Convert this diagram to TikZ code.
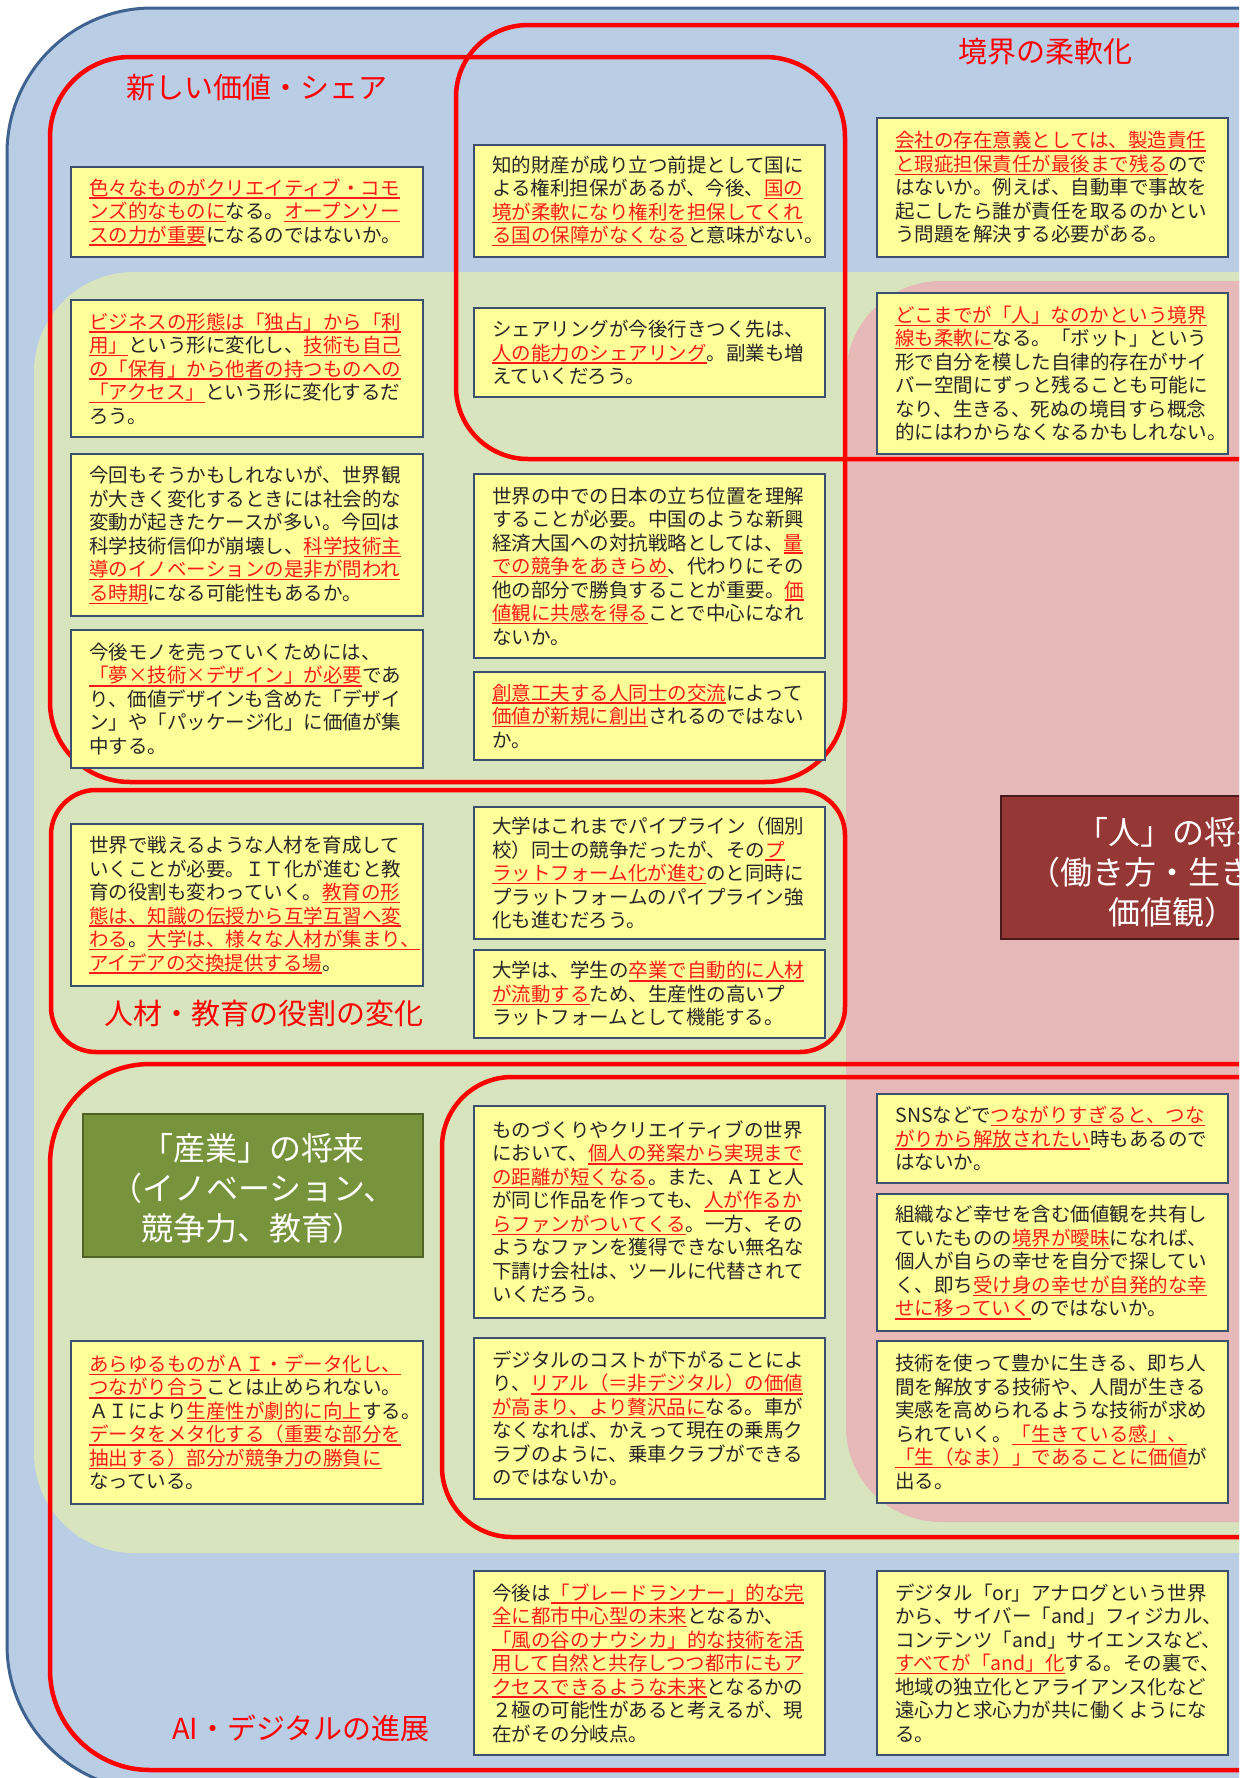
\documentclass[tikz,border=0pt]{standalone}
\usepackage{fontspec}
\setmainfont{Noto Sans CJK JP}
\usetikzlibrary{fit}
\definecolor{bgblue}{HTML}{B9CDE5}
\definecolor{bgborder}{HTML}{3F6290}
\definecolor{bggreen}{HTML}{D7E4BD}
\definecolor{bgpink}{HTML}{E6B9B8}
\definecolor{boxfill}{HTML}{FFFF99}
\definecolor{boxline}{HTML}{3B4F6E}
\definecolor{grpred}{HTML}{FF0000}
\definecolor{txtred}{HTML}{FF1A1A}
\definecolor{txtdark}{HTML}{262626}
\definecolor{indgreen}{HTML}{77933C}
\definecolor{indgreenline}{HTML}{4F6228}
\definecolor{indred}{HTML}{953735}
\definecolor{indredline}{HTML}{4A1B1B}
\newcommand\RU[1]{{\color{txtred}\setbox0=\hbox{#1}\rlap{\rule[-3.6pt]{\wd0}{1.3pt}}\box0}}
\tikzset{
 tbox/.style={draw=boxline, fill=boxfill, line width=1.5pt, inner sep=0pt},
 ttext/.style={anchor=west, align=left, inner sep=0pt, text=txtdark, font=\fontsize{19.5}{23.5}\selectfont},
 grp/.style={draw=grpred, line width=4.5pt},
 lbl/.style={text=grpred, font=\fontsize{29}{32}\selectfont, inner sep=0pt},
 indtext/.style={inner sep=0pt, text=white, align=center, font=\fontsize{32}{40}\selectfont},
}
\newcommand\tbox[6]{%
  \node[tbox, fit={(#2,#3) (#4,#5)}] (#1) {};
  \node[ttext] (#1t) at ([xshift=19pt]#1.west) {#6};
}
\begin{document}
\begin{tikzpicture}[x=1pt,y=-1pt]
\useasboundingbox (0,0) rectangle (1244,1778);
\begin{scope}
\clip (0,0) rectangle (1239,1778);
% backgrounds
\draw[fill=bgblue, draw=bgborder, line width=3pt, rounded corners=145pt] (7,8) rectangle (1420,1790);
\fill[bggreen, rounded corners=100pt] (34,272) rectangle (1420,1553);
\fill[bgpink, rounded corners=95pt] (846,281) rectangle (1420,1522);
% group outlines
\draw[grp, rounded corners=80pt] (50,57) rectangle (845,782);
\draw[grp, rounded corners=72pt] (456,25) rectangle (1420,459);
\draw[grp, rounded corners=45pt] (51,790) rectangle (845,1052);
\draw[grp, rounded corners=100pt] (50,1064) rectangle (1420,1770);
\draw[grp, rounded corners=70pt] (442,1077) rectangle (1420,1537);
% left column
\tbox{l1}{71}{167}{423}{257}{\RU{色々なものがクリエイティブ・コモ}\\\RU{ンズ的なものに}なる。\RU{オープンソー}\\\RU{スの力が重要}になるのではないか。}
\tbox{l2}{71}{300}{423}{437}{\RU{ビジネスの形態は「独占」から「利}\\\RU{用」}という形に変化し、\RU{技術も自己}\\\RU{の「保有」から他者の持つものへの}\\\RU{「アクセス」}という形に変化するだ\\ろう。}
\tbox{l3}{71}{454}{423}{616}{今回もそうかもしれないが、世界観\\が大きく変化するときには社会的な\\変動が起きたケースが多い。今回は\\科学技術信仰が崩壊し、\RU{科学技術主}\\\RU{導のイノベーションの是非が問われ}\\\RU{る時期}になる可能性もあるか。}
\tbox{l4}{71}{630}{423}{768}{今後モノを売っていくためには、\\\RU{「夢×技術×デザイン」が必要}であ\\り、価値デザインも含めた「デザイ\\ン」や「パッケージ化」に価値が集\\中する。}
\tbox{l5}{71}{824}{423}{986}{世界で戦えるような人材を育成して\\いくことが必要。ＩＴ化が進むと教\\育の役割も変わっていく。\RU{教育の形}\\\RU{態は、知識の伝授から互学互習へ変}\\\RU{わる}。\RU{大学は、様々な人材が集まり、}\\\RU{アイデアの交換提供する場}。}
\tbox{l8}{71}{1341}{423}{1504}{\RU{あらゆるものがＡＩ・データ化し、}\\\RU{つながり合う}ことは止められない。\\ＡＩにより\RU{生産性が劇的に向上}する。\\\RU{データをメタ化する（重要な部分を}\\\RU{抽出する）部分が競争力の勝負に}\\なっている。}
% middle column
\tbox{m1}{474}{145}{825}{257}{知的財産が成り立つ前提として国に\\よる権利担保があるが、今後、\RU{国の}\\\RU{境が柔軟になり権利を担保してくれ}\\\RU{る国の保障がなくなる}と意味がない。}
\tbox{m2}{474}{308}{825}{397}{シェアリングが今後行きつく先は、\\\RU{人の能力のシェアリング}。副業も増\\えていくだろう。}
\tbox{m3}{474}{474}{825}{658}{世界の中での日本の立ち位置を理解\\することが必要。中国のような新興\\経済大国への対抗戦略としては、\RU{量}\\\RU{での競争をあきらめ}、代わりにその\\他の部分で勝負することが重要。\RU{価}\\\RU{値観に共感を得る}ことで中心になれ\\ないか。}
\tbox{m4}{474}{672}{825}{760}{\RU{創意工夫する人同士の交流}によって\\\RU{価値が新規に創出}されるのではない\\か。}
\tbox{m5}{474}{807}{825}{939}{大学はこれまでパイプライン（個別\\校）同士の競争だったが、その\RU{プ}\\\RU{ラットフォーム化が進む}のと同時に\\プラットフォームのパイプライン強\\化も進むだろう。}
\tbox{m6}{474}{950}{825}{1038}{大学は、学生の\RU{卒業で自動的に人材}\\\RU{が流動する}ため、生産性の高いプ\\ラットフォームとして機能する。}
\tbox{m7}{474}{1106}{825}{1318}{ものづくりやクリエイティブの世界\\において、\RU{個人の発案から実現まで}\\\RU{の距離が短くなる}。また、ＡＩと人\\が同じ作品を作っても、\RU{人が作るか}\\\RU{らファンがついてくる}。一方、その\\ようなファンを獲得できない無名な\\下請け会社は、ツールに代替されて\\いくだろう。}
\tbox{m8}{474}{1338}{825}{1499}{デジタルのコストが下がることによ\\り、\RU{リアル（＝非デジタル）の価値}\\\RU{が高まり、より贅沢品に}なる。車が\\なくなれば、かえって現在の乗馬ク\\ラブのように、乗車クラブができる\\のではないか。}
\tbox{m9}{474}{1571}{825}{1755}{今後は\RU{「ブレードランナー」的な完}\\\RU{全に都市中心型の未来}となるか、\\\RU{「風の谷のナウシカ」的な技術を活}\\\RU{用して自然と共存しつつ都市にもア}\\\RU{クセスできるような未来}となるかの\\２極の可能性があると考えるが、現\\在がその分岐点。}
% right column
\tbox{r1}{877}{118}{1228}{257}{\RU{会社の存在意義としては、製造責任}\\\RU{と瑕疵担保責任が最後まで残る}ので\\はないか。例えば、自動車で事故を\\起こしたら誰が責任を取るのかとい\\う問題を解決する必要がある。}
\tbox{r2}{877}{293}{1228}{454}{\RU{どこまでが「人」なのかという境界}\\\RU{線も柔軟に}なる。「ボット」という\\形で自分を模した自律的存在がサイ\\バー空間にずっと残ることも可能に\\なり、生きる、死ぬの境目すら概念\\的にはわからなくなるかもしれない。}
\tbox{r7}{877}{1094}{1228}{1183}{SNSなどで\RU{つながりすぎると、つな}\\\RU{がりから解放されたい}時もあるので\\はないか。}
\tbox{r8}{877}{1194}{1228}{1331}{組織など幸せを含む価値観を共有し\\ていたものの\RU{境界が曖昧}になれば、\\個人が自らの幸せを自分で探してい\\く、即ち\RU{受け身の幸せが自発的な幸}\\\RU{せに移っていく}のではないか。}
\tbox{r9}{877}{1341}{1228}{1503}{技術を使って豊かに生きる、即ち人\\間を解放する技術や、人間が生きる\\実感を高められるような技術が求め\\られていく。\RU{「生きている感」、}\\\RU{「生（なま）」であることに価値}が\\出る。}
\tbox{r10}{877}{1571}{1228}{1755}{デジタル「or」アナログという世界\\から、サイバー「and」フィジカル、\\コンテンツ「and」サイエンスなど、\\\RU{すべてが「and」化}する。その裏で、\\地域の独立化とアライアンス化など\\遠心力と求心力が共に働くようにな\\る。}
% indicator boxes
\node[fit={(83,1114) (423,1257)}, inner sep=0pt, draw=indgreenline, fill=indgreen, line width=2pt] (indg) {};
\node[indtext] (indgt) at ([yshift=-3pt]indg.center) {「産業」の将来\\（イノベーション、\\競争力、教育）};
\node[fit={(1001,796) (1343,939)}, inner sep=0pt, draw=indredline, fill=indred, line width=2pt] (indr) {};
\node[indtext] (indrt) at ([yshift=-5pt]indr.center) {「人」の将来\\（働き方・生き方、\\価値観）};
% labels
\node[lbl] (lab1) at (257,88) {新しい価値・シェア};
\node[lbl] (lab2) at (1045,52) {境界の柔軟化};
\node[lbl] (lab3) at (264,1013) {人材・教育の役割の変化};
\node[lbl] (lab4) at (301,1728) {AI・デジタルの進展};
\end{scope}
\end{tikzpicture}
\end{document}
